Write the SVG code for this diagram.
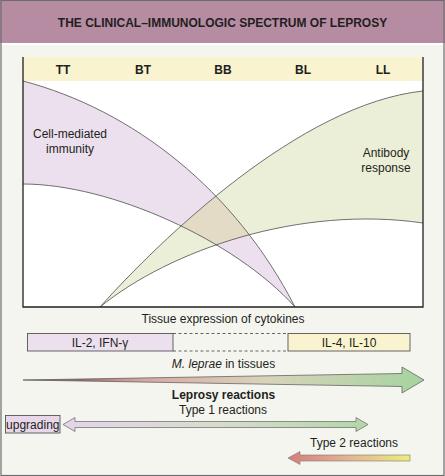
<svg xmlns="http://www.w3.org/2000/svg" width="445" height="476" viewBox="0 0 445 476">
<defs>
<style>
.t{font-family:"Liberation Sans",Arial,sans-serif;fill:#231f20;}
.lbl{font-size:12px;text-anchor:middle;}
.b{font-weight:bold;}
.cv{fill:none;stroke:#4d4d4d;stroke-width:0.8;}
.box{stroke:#555;stroke-width:0.9;}
</style>
<linearGradient id="gBig" x1="23" y1="0" x2="424" y2="0" gradientUnits="userSpaceOnUse">
<stop offset="0" stop-color="#6e3b3b"/>
<stop offset="0.3" stop-color="#d9a8a3"/>
<stop offset="0.6" stop-color="#d8d3bb"/>
<stop offset="1" stop-color="#a6d39f"/>
</linearGradient>
<linearGradient id="gT1" x1="63" y1="0" x2="368" y2="0" gradientUnits="userSpaceOnUse">
<stop offset="0" stop-color="#e6d4ea"/>
<stop offset="0.5" stop-color="#d8dccd"/>
<stop offset="1" stop-color="#b2d6a9"/>
</linearGradient>
<linearGradient id="gT2" x1="288" y1="0" x2="410" y2="0" gradientUnits="userSpaceOnUse">
<stop offset="0" stop-color="#d77d7d"/>
<stop offset="0.5" stop-color="#e3b592"/>
<stop offset="1" stop-color="#ecec7c"/>
</linearGradient>
<path id="purpleArea" d="M23,81 C133,110 235,190 295,307 C235,240 110,184 23,184 Z"/>
<path id="greenArea" d="M100,307 C160,240 300,104 423,91 L423,223 C300,205 170,250 100,307 Z"/>
<clipPath id="clipPurple"><use href="#purpleArea"/></clipPath>
</defs>

<!-- background -->
<rect x="0" y="0" width="445" height="476" fill="#f5f5f0"/>
<rect x="0" y="0" width="445" height="43" fill="#b68ca3"/>
<rect x="0" y="43" width="445" height="2" fill="#ffffff"/>
<rect x="1" y="0.5" width="443" height="475" fill="none" stroke="#6d6d6d" stroke-width="1.2"/>

<g id="title">
<text class="t lbl b" x="222.5" y="27" font-size="12">THE CLINICAL–IMMUNOLOGIC SPECTRUM OF LEPROSY</text>
</g>

<g id="chart">
<rect x="23" y="57" width="400" height="24" fill="#f9f4cf"/>
<rect x="23" y="81" width="400" height="226" fill="#ffffff"/>
<g class="t lbl b" font-size="11.5">
<text x="63" y="74">TT</text>
<text x="143" y="74">BT</text>
<text x="223" y="74">BB</text>
<text x="303" y="74">BL</text>
<text x="383" y="74">LL</text>
</g>
</g>

<g id="cell-mediated-immunity">
<use href="#purpleArea" fill="#ece0ee"/>
<text class="t lbl" x="70" y="138">Cell-mediated</text>
<text class="t lbl" x="70" y="153">immunity</text>
</g>

<g id="antibody-response">
<use href="#greenArea" fill="#ecefd7"/>
<use href="#greenArea" fill="#e3dbc6" clip-path="url(#clipPurple)"/>
<text class="t lbl" x="386" y="157">Antibody</text>
<text class="t lbl" x="386" y="172">response</text>
</g>

<g id="curves">
<path class="cv" d="M23,81 C133,110 235,190 295,307"/>
<path class="cv" d="M23,184 C110,184 235,240 295,307"/>
<path class="cv" d="M100,307 C160,240 300,104 423,91"/>
<path class="cv" d="M100,307 C170,250 300,205 423,223"/>
</g>

<g id="frame">
<path d="M23,57 V307 H423 V57" fill="none" stroke="#231f20" stroke-width="1.3"/>
</g>

<g id="cytokines">
<text class="t lbl" x="223" y="323">Tissue expression of cytokines</text>
<rect class="box" x="27.5" y="333.5" width="145.5" height="17.5" fill="#ece0ee"/>
<path d="M173,333.5 H288 M173,351 H288" stroke="#555" stroke-width="0.9" stroke-dasharray="3,2.5" fill="none"/>
<rect class="box" x="288" y="333.5" width="122" height="17.5" fill="#f9f4cf"/>
<text class="t lbl" x="100" y="347">IL-2, IFN-γ</text>
<text class="t lbl" x="349" y="347">IL-4, IL-10</text>
</g>

<g id="m-leprae">
<text class="t lbl" x="223.5" y="368"><tspan font-style="italic">M. leprae</tspan> in tissues</text>
<path d="M23,380 L402,373.5 L402,367 L424,380 L402,393 L402,386.5 Z" fill="url(#gBig)" stroke="#555" stroke-width="0.7" stroke-linejoin="miter"/>
</g>

<g id="leprosy-reactions">
<text class="t lbl b" x="223.5" y="399">Leprosy reactions</text>
<text class="t lbl" x="223" y="414">Type 1 reactions</text>
</g>

<g id="upgrading">
<rect class="box" x="5.5" y="415.5" width="54.5" height="17.5" fill="#e8d7e9"/>
<text class="t lbl" x="32.8" y="428.5">upgrading</text>
</g>

<g id="type1">
<path d="M63,424.5 L75,417.5 L75,421.5 L356,421.5 L356,417.5 L368,424.5 L356,431.5 L356,427.5 L75,427.5 L75,431.5 Z" fill="url(#gT1)" stroke="#666" stroke-width="0.7"/>
</g>

<g id="type2">
<text class="t lbl" x="354" y="447">Type 2 reactions</text>
<path d="M288,458 L300,451.5 L300,455 L410,455 L410,461 L300,461 L300,464.5 Z" fill="url(#gT2)" stroke="#777" stroke-width="0.6"/>
</g>
</svg>
